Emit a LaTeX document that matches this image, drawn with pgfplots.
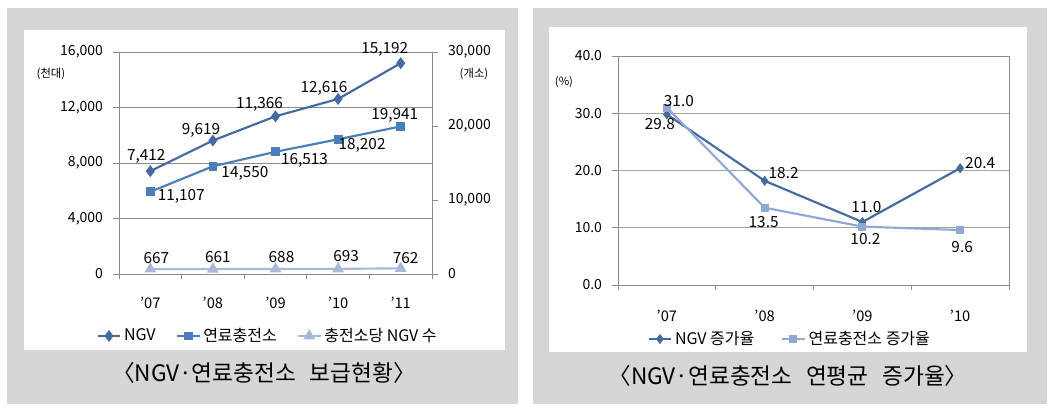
\documentclass[border=0pt]{standalone}
\usepackage{fontspec}
\setmainfont{Noto Sans CJK KR}
\usepackage{pgfplots}
\pgfplotsset{compat=1.18}
\usepackage{pgfplotstable}
\definecolor{ngv}{HTML}{46699F}
\definecolor{stn}{HTML}{4A7EBB}
\definecolor{per}{HTML}{A7B8D8}
\definecolor{stnr}{HTML}{8FA8D6}
\definecolor{panel}{HTML}{D6D6D6}
\definecolor{gridc}{HTML}{8C8C8C}

\pgfplotstableread{
x y dx dy
0 7412 -4 15
1 9619 -12 10
2 11366 -16 12
3 12616 -14 11
4 15192 -16 14
}\ngvtab
\pgfplotstableread{
x y dx dy
0 11107 31 -5
1 14550 32 -7
2 16513 29 -9
3 18202 24 -6
4 19941 -6 11
}\stationtab
\pgfplotstableread{
x y dx dy
0 667 6 11
1 661 5 12
2 688 6 12
3 693 8 13
4 762 5 10
}\pertab
\pgfplotstableread{
x y dx dy
0 29.8 -7 -10
1 18.2 19 8
2 11.0 4 15
3 20.4 20 5
}\ngvratetab
\pgfplotstableread{
x y dx dy
0 31.0 12 6
1 13.5 -1 -14
2 10.2 3 -12
3 9.6 2 -17
}\stnratetab

\pgfplotsset{
  lbl/.style={
    nodes near coords,
    point meta=explicit,
    visualization depends on={\thisrow{dx}\as\lblx},
    visualization depends on={\thisrow{dy}\as\lbly},
    every node near coord/.append style={anchor=center, inner sep=0pt, text=black,
       font=\fontsize{11.5}{13}\selectfont, xshift=\lblx*0.75pt, yshift=\lbly*0.75pt},
  },
  base/.style={
    scale only axis,
    axis line style={gridc, line width=0.6pt},
    tick style={gridc, line width=0.6pt},
    tick align=outside,
    major tick length=4.5pt,
    minor tick length=4pt,
    major x tick style={draw=none},
    tick label style={font=\fontsize{10.5}{12}\selectfont, text=black},
    /pgf/number format/assume math mode=true,
    /pgf/number format/1000 sep={,},
    clip=false,
  },
}

\begin{document}
\begin{tikzpicture}
\useasboundingbox (0pt,0pt) rectangle (797.25pt,305.25pt);
\fill[white] (0pt,0pt) rectangle (797.25pt,305.25pt);
\fill[panel] (5.25pt,2.25pt) rectangle (388.5pt,299.25pt);
\fill[white] (18pt,42.75pt) rectangle (378.75pt,282.75pt);
\fill[panel] (399.75pt,2.25pt) rectangle (785.25pt,299.25pt);
\fill[white] (411.75pt,41.25pt) rectangle (770.25pt,285pt);

\begin{axis}[base,
  at={(89.25pt,99.75pt)}, anchor=south west,
  width=234.75pt, height=166.5pt,
  xmin=-0.5, xmax=4.5, ymin=0, ymax=16000,
  axis y line*=left, axis x line*=bottom,
  ytick={0,4000,...,16000}, scaled y ticks=false,
  ymajorgrids, grid style={gridc, line width=0.6pt},
  xtick={0,...,4}, xticklabels={’07,’08,’09,’10,’11},
  minor xtick={-0.5,0.5,...,4.5},
  xticklabel style={yshift=-9.5pt, font=\fontsize{11}{13}\selectfont},
  yticklabel style={xshift=-4pt},
  legend columns=3,
  legend style={at={(0.476,-0.279)}, anchor=center, draw=none, fill=none,
     font=\fontsize{12}{14}\selectfont,
     /tikz/every even column/.append style={column sep=13pt}},
]
\addplot[ngv, line width=1.6pt, mark=diamond*, mark size=3.2pt, mark options={solid}, lbl] table[x=x,y=y,meta=y]{\ngvtab};
\addlegendentry{NGV}
\addlegendimage{stn, line width=1.6pt, mark=square*, mark size=2.5pt}
\addlegendentry{연료충전소}
\addlegendimage{per, line width=1.6pt, mark=triangle*, mark size=3.5pt}
\addlegendentry{충전소당 NGV 수}
\end{axis}

\begin{axis}[base,
  at={(89.25pt,99.75pt)}, anchor=south west,
  width=234.75pt, height=166.5pt,
  xmin=-0.5, xmax=4.5, ymin=0, ymax=30000,
  axis y line*=right, axis x line=none,
  ytick={0,10000,20000,30000}, scaled y ticks=false,
  yticklabel style={xshift=4pt},
]
\addplot[stn, line width=1.6pt, mark=square*, mark size=2.5pt, mark options={solid}, lbl] table[x=x,y=y,meta=y]{\stationtab};
\addplot[per, line width=1.6pt, mark=triangle*, mark size=3.5pt, mark options={solid}, lbl] table[x=x,y=y,meta=y]{\pertab};
\end{axis}

\node[font=\fontsize{8.5}{10}\selectfont] at (38.25pt,249.75pt) {(천대)};
\node[font=\fontsize{8.5}{10}\selectfont] at (355.5pt,249.75pt) {(개소)};
\node[font=\fontsize{17}{19}\selectfont] at (198pt,25.5pt) {〈NGV·연료충전소\hspace{0.6em}보급현황〉};

\begin{axis}[base,
  at={(463.5pt,91.5pt)}, anchor=south west,
  width=293.25pt, height=171.75pt,
  xmin=-0.5, xmax=3.5, ymin=0, ymax=40,
  ytick={0,10,...,40}, ytick pos=left, xtick pos=bottom,
  ymajorgrids, grid style={gridc!80, line width=0.6pt},
  /pgf/number format/fixed, /pgf/number format/fixed zerofill, /pgf/number format/precision=1,
  xtick={0,...,3}, xticklabels={’07,’08,’09,’10},
  minor xtick={-0.5,0.5,...,3.5},
  xticklabel style={yshift=-10.5pt, font=\fontsize{11}{13}\selectfont},
  yticklabel style={xshift=-4pt},
  legend columns=2,
  legend style={at={(0.44,-0.236)}, anchor=center, draw=none, fill=none,
     font=\fontsize{12}{14}\selectfont,
     /tikz/every even column/.append style={column sep=18pt}},
]
\addplot[ngv, line width=1.6pt, mark=diamond*, mark size=2.5pt, mark options={solid}, lbl] table[x=x,y=y,meta=y]{\ngvratetab};
\addlegendentry{NGV 증가율}
\addplot[stnr, line width=1.6pt, mark=square*, mark size=2.2pt, mark options={solid}, lbl] table[x=x,y=y,meta=y]{\stnratetab};
\addlegendentry{연료충전소 증가율}
\end{axis}

\node[font=\fontsize{8.5}{10}\selectfont] at (423pt,243.75pt) {(\%)};
\node[font=\fontsize{17}{19}\selectfont] at (591pt,23.25pt) {〈NGV·연료충전소\hspace{0.6em}연평균\hspace{0.6em}증가율〉};
\end{tikzpicture}
\end{document}
